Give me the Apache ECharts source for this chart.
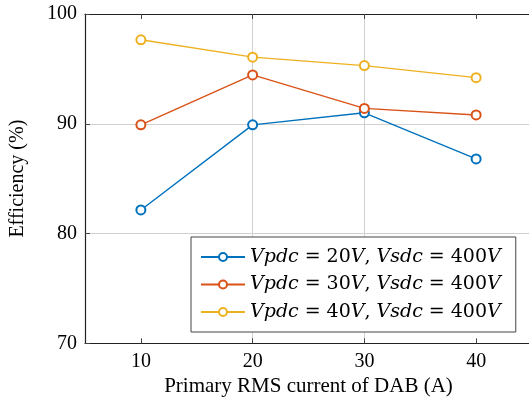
<!DOCTYPE html>
<html><head><meta charset="utf-8">
<script src="https://cdn.jsdelivr.net/npm/echarts@6/dist/echarts.min.js"></script>
<style>html,body{margin:0;padding:0;background:#fff}#c{width:529px;height:400px}</style>
</head><body><div id="c"></div>
<script>
const xValues = [10, 20, 30, 40];
const seriesNames = ['Vpdc = 20V, Vsdc = 400V', 'Vpdc = 30V, Vsdc = 400V', 'Vpdc = 40V, Vsdc = 400V'];
const eff20 = [82.15, 89.9, 91.0, 86.8];
const eff30 = [89.9, 94.45, 91.4, 90.8];
const eff40 = [97.65, 96.07, 95.3, 94.2];
const colors = ['#0072BD', '#D95319', '#EDB120'];
const xTicks = [10, 20, 30, 40];
const yTicks = [70, 80, 90, 100];

const F = 'Liberation Serif, Times New Roman, serif';
const FM = 'DejaVu Serif, serif';
function richName(name) {
  return name.match(/[A-Za-z]+|=|[^A-Za-z=]+/g).map(t => {
    if (t === '=') return '{e|=}';
    if (/[A-Za-z]/.test(t)) return '{i|' + t + '}';
    return '{n|' + t.replace(/ /g, '') + (t.indexOf(',') >= 0 ? ' ' : '') + '}';
  }).join('');
}
const allData = [eff20, eff30, eff40];
const chart = echarts.init(document.getElementById('c'));
chart.setOption({
  animation: false,
  backgroundColor: '#fff',
  grid: { left: 85, top: 14, width: 447, height: 329.3, containLabel: false, outerBoundsMode: 'none' },
  legend: {
    orient: 'vertical', left: 191, top: 237,
    padding: [9, 15, 9, 9], itemGap: 5.5, itemWidth: 44, itemHeight: 10,
    backgroundColor: '#fff', borderColor: '#444', borderWidth: 1, borderRadius: 0,
    formatter: richName,
    textStyle: {
      fontFamily: FM, fontSize: 19, color: '#000', lineHeight: 22,
      rich: {
        i: { fontFamily: FM, fontStyle: 'italic', fontSize: 19, color: '#000', lineHeight: 22 },
        n: { fontFamily: FM, fontSize: 19, color: '#000', lineHeight: 22 },
        e: { fontFamily: FM, fontSize: 19, color: '#000', padding: [0, 6, 0, 6], lineHeight: 22 }
      }
    }
  },
  xAxis: [{
    type: 'value', min: 5, max: 45, interval: 5,
    name: 'Primary RMS current of DAB (A)', nameLocation: 'middle', nameGap: 32,
    nameTextStyle: { fontFamily: F, fontSize: 21, color: '#000' },
    axisLine: { show: true, lineStyle: { color: '#222', width: 1.2 } },
    axisTick: { show: true, inside: true, length: 5, lineStyle: { color: '#444' }, customValues: xTicks },
    axisLabel: { fontFamily: F, fontSize: 20, color: '#000', margin: 8, customValues: xTicks },
    splitLine: { show: true, lineStyle: { color: '#d0d0d0', width: 1 }, showMinLine: false, showMaxLine: false }
  }, {
    type: 'value', position: 'top', min: 5, max: 45, interval: 5,
    axisLine: { show: true, lineStyle: { color: '#222', width: 1.2 } },
    axisTick: { show: true, inside: true, length: 5, lineStyle: { color: '#444' }, customValues: xTicks },
    axisLabel: { show: false }, splitLine: { show: false }
  }],
  yAxis: [{
    type: 'value', min: 70, max: 100, interval: 10,
    name: 'Efficiency (%)', nameLocation: 'middle', nameGap: 57,
    nameTextStyle: { fontFamily: F, fontSize: 20, color: '#000' },
    axisLine: { show: true, lineStyle: { color: '#222', width: 1.2 } },
    axisTick: { show: true, inside: true, length: 5, lineStyle: { color: '#444' } },
    axisLabel: { fontFamily: F, fontSize: 20, color: '#000', margin: 8 },
    splitLine: { show: true, lineStyle: { color: '#d0d0d0', width: 1 } }
  }],
  series: seriesNames.map((n, k) => ({
    name: n, type: 'line', xAxisIndex: 0,
    data: xValues.map((x, i) => [x, allData[k][i]]),
    color: colors[k],
    symbol: 'emptyCircle', symbolSize: 9,
    lineStyle: { width: 1.4, color: colors[k] },
    itemStyle: { color: colors[k], borderWidth: 1.2 }
  }))
});
</script></body></html>
